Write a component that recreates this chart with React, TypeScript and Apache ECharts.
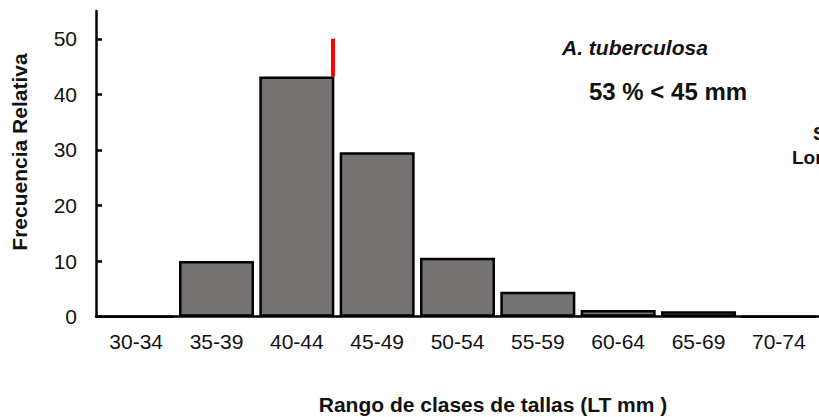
import React, { useEffect, useRef } from 'react';
import * as echarts from 'echarts';

const categories = ['30-34', '35-39', '40-44', '45-49', '50-54', '55-59', '60-64', '65-69', '70-74'];
const frequencies = [0, 10.0, 43.2, 29.6, 10.6, 4.5, 1.2, 1.0, 0];
const yTickValues = [0, 10, 20, 30, 40, 50];
const cutoffMm = 44.75;
const cutoffTop = 50;
const cutoffLine = [[cutoffMm, frequencies[2]], [cutoffMm, cutoffTop]];

const FONT = '"Liberation Sans", Arial, Helvetica, sans-serif';

function txt(text: string, x: number, y: number, font: string, align: string, extra: any = {}) {
  return {
    type: 'text',
    x,
    y,
    ...extra,
    style: {
      text,
      font,
      fill: '#111',
      align,
      verticalAlign: 'middle',
      textAlign: align,
      textVerticalAlign: 'middle',
    },
  };
}

export default function App() {
  const ref = useRef<HTMLDivElement>(null);
  useEffect(() => {
    if (!ref.current) return;
    const chart = echarts.init(ref.current, null, { renderer: 'svg' });
    chart.setOption({
      animation: false,
      backgroundColor: '#ffffff',
      grid: { left: 96, right: -3, top: 11, bottom: 100.3 },
      xAxis: [
        {
          type: 'category',
          data: categories,
          boundaryGap: true,
          axisLine: { lineStyle: { color: '#000', width: 2.5 } },
          axisTick: { alignWithLabel: true, inside: false, length: 4, lineStyle: { color: '#000', width: 2.5 } },
          axisLabel: { color: '#111', fontSize: 21, fontFamily: FONT, margin: 14 },
          splitLine: { show: false },
        },
        {
          type: 'value',
          min: 30,
          max: 75,
          show: false,
          position: 'top',
        },
      ],
      yAxis: {
        type: 'value',
        min: 0,
        max: 55,
        interval: 10,
        axisLine: { show: true, lineStyle: { color: '#000', width: 2.5 } },
        axisTick: { show: true, inside: true, length: 6, customValues: yTickValues, lineStyle: { color: '#000', width: 2.5 } },
        axisLabel: { color: '#111', fontSize: 21, fontFamily: FONT, margin: 19, customValues: yTickValues },
        splitLine: { show: false },
      },
      series: [
        {
          type: 'line',
          xAxisIndex: 1,
          yAxisIndex: 0,
          data: cutoffLine,
          symbol: 'none',
          lineStyle: { color: '#ff0000', width: 4 },
          z: 1,
        },
        {
          type: 'bar',
          xAxisIndex: 0,
          yAxisIndex: 0,
          data: frequencies,
          barWidth: 75,
          itemStyle: { color: '#767271', borderColor: '#000', borderWidth: 2.5 },
          z: 3,
        },
      ],
      graphic: [
        txt('Frecuencia Relativa', 19, 152, `bold 21px ${FONT}`, 'center', { rotation: Math.PI / 2 }),
        txt('Rango de clases de tallas (LT mm )', 493, 404, `bold 21px ${FONT}`, 'center'),
        txt('A. tuberculosa', 562, 47, `italic bold 21px ${FONT}`, 'left'),
        txt('53 % < 45 mm', 589, 91.5, `bold 24px ${FONT}`, 'left'),
        txt('S', 813, 133.5, `bold 19px ${FONT}`, 'left'),
        txt('Lon', 792, 157, `bold 19px ${FONT}`, 'left'),
      ],
    });
    return () => chart.dispose();
  }, []);
  return (
    <div
      ref={ref}
      style={{ position: 'absolute', left: 0, top: 0, width: 819, height: 417, background: '#fff' }}
    />
  );
}
